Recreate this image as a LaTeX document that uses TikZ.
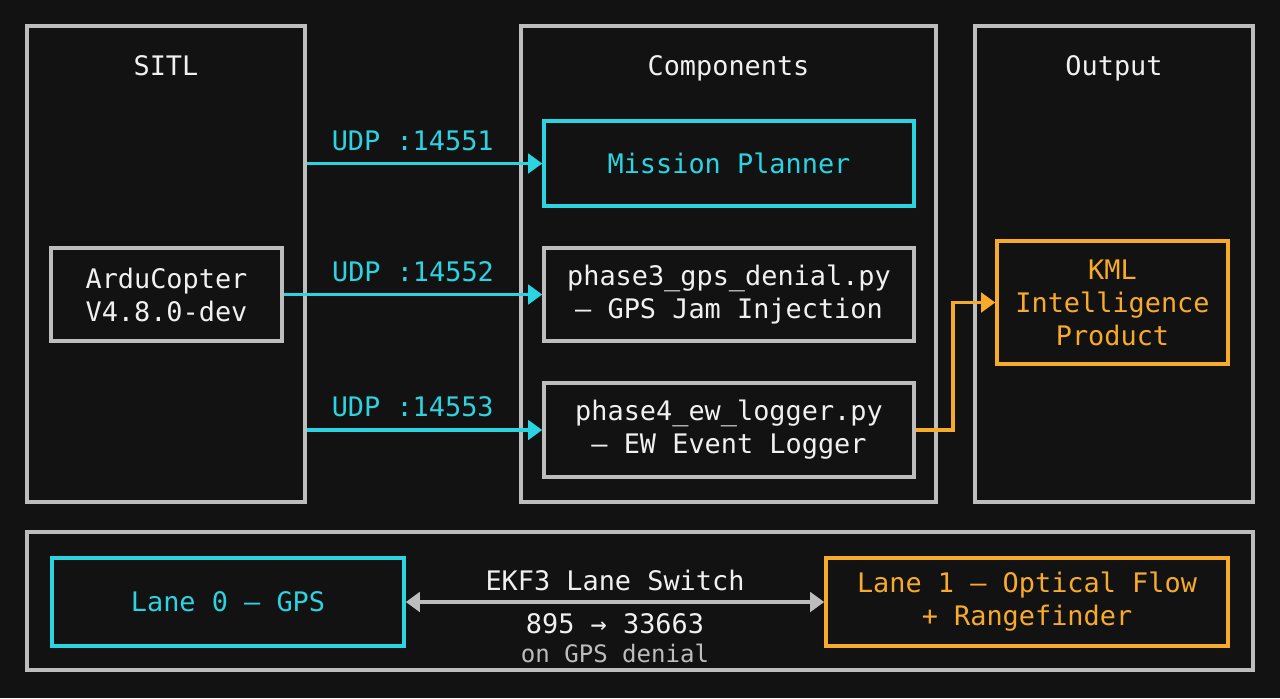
\documentclass[tikz,border=0pt]{standalone}
\usepackage{fontspec}
\setmainfont{DejaVu Sans Mono}
\usetikzlibrary{positioning, arrows.meta, calc}
\definecolor{bgdark}{HTML}{121212}
\definecolor{framegray}{HTML}{BDBDBD}
\definecolor{linkcyan}{HTML}{2CD3E1}
\definecolor{outorange}{HTML}{F8AA2A}
\definecolor{textwhite}{HTML}{F0F0F0}
\tikzset{
  % Group frames
  groupframe/.style={
    draw=framegray, line width=2pt, rectangle,
    minimum height=9.52cm, inner sep=0pt
  },
  grouptitle/.style={
    text=textwhite, font=\fontsize{15.3}{18.8}\selectfont
  },
  % Component boxes
  compbox/.style={
    draw=framegray, line width=2pt, rectangle, align=center,
    text=textwhite, font=\fontsize{15.3}{18.8}\selectfont,
    minimum width=7.40cm, minimum height=1.86cm, inner sep=0pt
  },
  cyanbox/.style={
    compbox, draw=linkcyan, text=linkcyan
  },
  orangebox/.style={
    compbox, draw=outorange, text=outorange
  },
  % Links
  udplink/.style={
    -{Triangle[length=8pt, width=11pt]}, linkcyan, line width=2pt
  },
  kmllink/.style={
    -{Triangle[length=8pt, width=11pt]}, outorange, line width=2pt
  },
  lanelink/.style={
    {Triangle[length=8pt, width=11pt]}-{Triangle[length=8pt, width=11pt]},
    framegray, line width=2pt
  },
  udplabel/.style={
    text=linkcyan, font=\fontsize{15.3}{18.8}\selectfont
  },
  notelabel/.style={
    text=framegray, font=\fontsize{13.7}{16}\selectfont
  },
}

\begin{document}
\begin{tikzpicture}

  %% ── Background ──
  \fill[bgdark] (0,0) rectangle (25.6,-13.96);
  \useasboundingbox (0,0) rectangle (25.6,-13.96);

  %% ── Groups ──
  \node[groupframe, minimum width=5.56cm] (sitl) at (3.32,-5.28) {};
  \node[groupframe, minimum width=8.30cm] (comps) at (14.57,-5.28) {};
  \node[groupframe, minimum width=5.56cm] (output) at (22.28,-5.28) {};
  \node[groupframe, minimum width=24.52cm, minimum height=2.76cm] (ekf) at (12.80,-12.02) {};

  \node[grouptitle, anchor=base] (sitlT) at (3.32,-1.50) {SITL};
  \node[grouptitle, anchor=base] (compsT) at (14.57,-1.50) {Components};
  \node[grouptitle, anchor=base] (outputT) at (22.28,-1.50) {Output};

  %% ── Nodes ──
  \node[compbox, minimum width=4.62cm] (ardu) at (3.33,-5.89) {ArduCopter\\V4.8.0-dev};
  \node[cyanbox, minimum height=1.70cm] (planner) at (14.58,-3.27) {Mission Planner};
  \node[compbox] (gpsdenial) at (14.58,-5.89) {phase3\_gps\_denial.py\\— GPS Jam Injection};
  \node[compbox, minimum height=1.88cm] (ewlogger) at (14.58,-8.60) {phase4\_ew\_logger.py\\— EW Event Logger};
  \node[orangebox, minimum width=4.62cm, minimum height=2.46cm] (kml) at (22.25,-6.05) {KML\\Intelligence\\Product};

  \node[cyanbox, minimum width=7.04cm, minimum height=1.76cm] (lane0) at (4.56,-12.04) {Lane 0 — GPS};
  \node[orangebox, minimum width=8.04cm, minimum height=1.76cm] (lane1) at (20.54,-12.04) {Lane 1 — Optical Flow\\+ Rangefinder};

  %% ── UDP links ──
  \draw[udplink] (sitl.east |- planner.west) -- node[udplabel, above=3pt, pos=0.45] {UDP :14551} (planner.west);
  \draw[udplink] (ardu.east) -- node[udplabel, above=3pt, pos=0.5] {UDP :14552} (gpsdenial.west);
  \draw[udplink] (sitl.east |- ewlogger.west) -- node[udplabel, above=3pt, pos=0.45] {UDP :14553} (ewlogger.west);

  %% ── KML output ──
  \draw[kmllink] (ewlogger.east) -- ++(0.74,0) |- (kml.west);

  %% ── EKF3 lane switch ──
  \draw[lanelink] (lane0.east) -- node[grouptitle, above=2pt] (switchT) {EKF3 Lane Switch} (lane1.west);
  \node[grouptitle, anchor=base] (countT) at ($(switchT.base)+(0,-0.86)$) {895 → 33663};
  \node[notelabel, anchor=base] (denialT) at ($(countT.base)+(0,-0.58)$) {on GPS denial};

\end{tikzpicture}
\end{document}
